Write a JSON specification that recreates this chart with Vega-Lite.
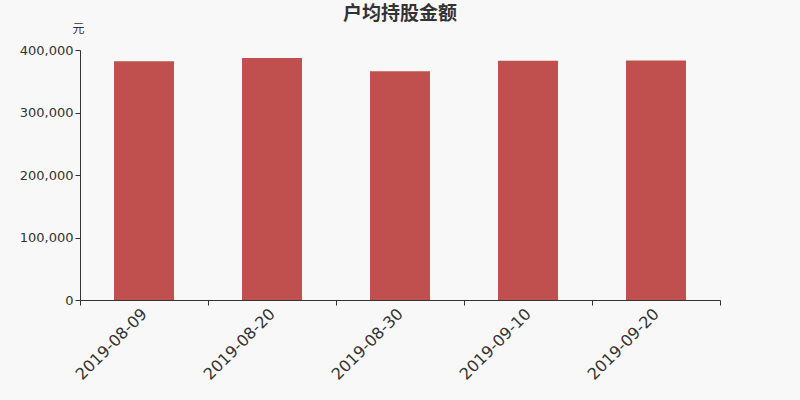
{
  "$schema": "https://vega.github.io/schema/vega-lite/v6.json",
  "autosize": "none",
  "width": 640,
  "height": 250,
  "padding": {"left": 80, "top": 50, "right": 80, "bottom": 100},
  "background": "#f8f8f8",
  "title": {
    "text": "户均持股金额",
    "font": "Noto Sans CJK SC",
    "fontSize": 19,
    "fontWeight": "bold",
    "color": "#333333",
    "anchor": "middle",
    "offset": -2
  },
  "data": {
    "values": [
      {"date": "2019-08-09", "amount": 381900},
      {"date": "2019-08-20", "amount": 387200},
      {"date": "2019-08-30", "amount": 365900},
      {"date": "2019-09-10", "amount": 382900},
      {"date": "2019-09-20", "amount": 383400}
    ]
  },
  "mark": {"type": "bar", "color": "#c0504d", "width": {"band": 0.46875}},
  "encoding": {
    "x": {
      "field": "date",
      "type": "ordinal",
      "scale": {"paddingInner": 0, "paddingOuter": 0},
      "axis": {
        "title": null,
        "labelAngle": -45,
        "labelAlign": "right",
        "labelBaseline": "middle",
        "labelFont": "DejaVu Sans",
        "labelFontSize": 16,
        "labelColor": "#333333",
        "labelPadding": 6,
        "tickBand": "extent",
        "tickColor": "#333333",
        "tickSize": 5,
        "domainColor": "#333333",
        "grid": false
      }
    },
    "y": {
      "field": "amount",
      "type": "quantitative",
      "scale": {"domain": [0, 400000]},
      "axis": {
        "title": "元",
        "titleAngle": 0,
        "titleFont": "Noto Sans CJK SC",
        "titleFontSize": 12,
        "titleFontWeight": "normal",
        "titleColor": "#333333",
        "titleAlign": "center",
        "titleBaseline": "middle",
        "titleX": -2,
        "titleY": -22,
        "values": [0, 100000, 200000, 300000, 400000],
        "format": ",d",
        "labelFont": "DejaVu Sans",
        "labelFontSize": 13,
        "labelColor": "#333333",
        "tickColor": "#333333",
        "tickSize": 5,
        "domainColor": "#333333",
        "grid": false
      }
    }
  },
  "config": {"view": {"stroke": null}}
}
